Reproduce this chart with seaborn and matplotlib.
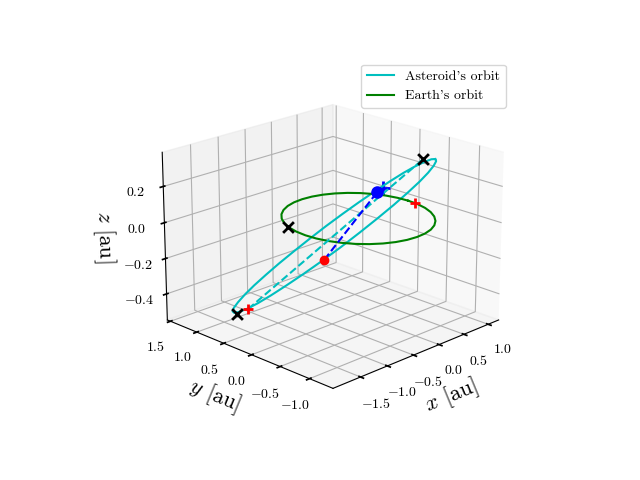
import matplotlib
matplotlib.use("Agg")
import matplotlib.pyplot as plt
import seaborn as sns

# orbit of the asteroid (au)
ast_x = [0.620, 0.798, 0.937, 1.036, 1.091, 1.100, 1.064, 0.983, 0.859, 0.697, 0.501, 0.279,
         0.034, -0.224, -0.487, -0.748, -0.999, -1.232, -1.440, -1.618, -1.757, -1.856, -1.911, -1.920,
         -1.884, -1.803, -1.679, -1.517, -1.321, -1.099, -0.854, -0.596, -0.333, -0.072, 0.179, 0.412, 0.620]
ast_y = [-0.762, -0.551, -0.321, -0.079, 0.168, 0.411, 0.644, 0.860, 1.051, 1.213, 1.341, 1.428,
         1.476, 1.479, 1.442, 1.361, 1.241, 1.087, 0.900, 0.689, 0.459, 0.217, -0.030, -0.273,
         -0.506, -0.722, -0.913, -1.075, -1.203, -1.290, -1.338, -1.341, -1.304, -1.223, -1.103, -0.949, -0.762]
ast_z = [0.342, 0.305, 0.256, 0.199, 0.133, 0.060, -0.017, -0.095, -0.172, -0.246, -0.316, -0.377,
         -0.429, -0.470, -0.499, -0.515, -0.518, -0.507, -0.482, -0.445, -0.396, -0.339, -0.273, -0.200,
         -0.123, -0.045, 0.032, 0.106, 0.176, 0.237, 0.289, 0.330, 0.359, 0.375, 0.378, 0.367, 0.342]

# orbit of the earth
earth_x = [1.000, 0.985, 0.940, 0.866, 0.766, 0.643, 0.500, 0.342, 0.174, 0.000, -0.174, -0.342,
           -0.500, -0.643, -0.766, -0.866, -0.940, -0.985, -1.000, -0.985, -0.940, -0.866, -0.766, -0.643,
           -0.500, -0.342, -0.174, 0.000, 0.174, 0.342, 0.500, 0.643, 0.766, 0.866, 0.940, 0.985, 1.000]
earth_y = [0.000, 0.174, 0.342, 0.500, 0.643, 0.766, 0.866, 0.940, 0.985, 1.000, 0.985, 0.940,
           0.866, 0.766, 0.643, 0.500, 0.342, 0.174, 0.000, -0.174, -0.342, -0.500, -0.643, -0.766,
           -0.866, -0.940, -0.985, -1.000, -0.985, -0.940, -0.866, -0.766, -0.643, -0.500, -0.342, -0.174, 0.000]
earth_z = [0.0] * 37

# dashed chords through the sun
chord_cyan_x = [-1.815, 1.200]
chord_cyan_y = [0.236, -0.076]
chord_cyan_z = [-0.347, 0.224]
chord_blue_x = [-1.681, 1.007]
chord_blue_y = [-0.954, 0.551]
chord_blue_z = [0.043, -0.006]

# markers
cross_x = [1.200, -1.658, -0.928]
cross_y = [-0.076, 0.592, 0.380]
cross_z = [0.224, -0.436, 0.000]
red_plus_x = [-1.815, 0.923]
red_plus_y = [0.236, -0.185]
red_plus_z = [-0.347, 0.015]
blue_plus = [1.098, 0.540, 0.007]
red_dot = [-1.681, -0.954, 0.043]
blue_dot = [1.007, 0.551, -0.006]

x_ticks = [-1.5, -1.0, -0.5, 0.0, 0.5, 1.0]
y_ticks = [-1.0, -0.5, 0.0, 0.5, 1.0, 1.5]
z_ticks = [-0.4, -0.2, 0.0, 0.2]

sns.set_theme(style="white", context="notebook", rc={
    "font.family": ["cmr10", "DejaVu Sans"],
    "mathtext.fontset": "cm",
    "axes.formatter.use_mathtext": True,
    "axes.unicode_minus": False,
    "font.size": 10,
    "axes.labelsize": 16,
    "xtick.labelsize": 10,
    "ytick.labelsize": 10,
    "legend.fontsize": 10,
    "lines.linewidth": 1.5,
    "axes.linewidth": 0.8,
    "axes.edgecolor": "black",
    "grid.color": "#b0b0b0",
    "grid.linewidth": 0.8,
    "xtick.color": "black",
    "ytick.color": "black",
    "text.color": "black",
    "axes.labelcolor": "black",
    "lines.solid_capstyle": "projecting",
})

fig = plt.figure(figsize=(6.4, 4.8), dpi=100)
ax = fig.add_subplot(projection="3d")

cyan = "#00bfbf"
green = "#008000"
blue = "#0000ff"
red = "#ff0000"

ax.plot(ast_x, ast_y, ast_z, color=cyan, label="Asteroid's orbit")
ax.plot(earth_x, earth_y, earth_z, color=green, label="Earth's orbit")
ax.plot(chord_cyan_x, chord_cyan_y, chord_cyan_z, color=cyan, linestyle="--")
ax.plot(chord_blue_x, chord_blue_y, chord_blue_z, color=blue, linestyle="--")

ax.scatter(*red_dot, color=red, s=36, depthshade=False)
ax.scatter(*blue_dot, color=blue, s=64, depthshade=False)
ax.scatter(*blue_plus, color=blue, marker="+", s=100, linewidths=2, depthshade=False)
ax.scatter(red_plus_x, red_plus_y, red_plus_z, color=red, marker="+", s=60, linewidths=2, depthshade=False)
ax.scatter(cross_x, cross_y, cross_z, color="black", marker="x", s=60, linewidths=2, depthshade=False)

ax.set_xlim(-2.000, 1.220)
ax.set_ylim(-1.390, 1.560)
ax.set_zlim(-0.549, 0.386)
ax.set_xticks(x_ticks)
ax.set_yticks(y_ticks)
ax.set_zticks(z_ticks)
ax.set_xticklabels([f"${t:.1f}$" for t in x_ticks])
ax.set_yticklabels([f"${t:.1f}$" for t in y_ticks])
ax.set_zticklabels([f"${t:.1f}$" for t in z_ticks])

ax.set_xlabel(r"$x$ [au]")
ax.set_ylabel(r"$y$ [au]")
ax.set_zlabel(r"$z$ [au]")
ax.view_init(elev=20, azim=-135)
ax.legend(loc="upper right")

fig.savefig("out.png", dpi=100)
